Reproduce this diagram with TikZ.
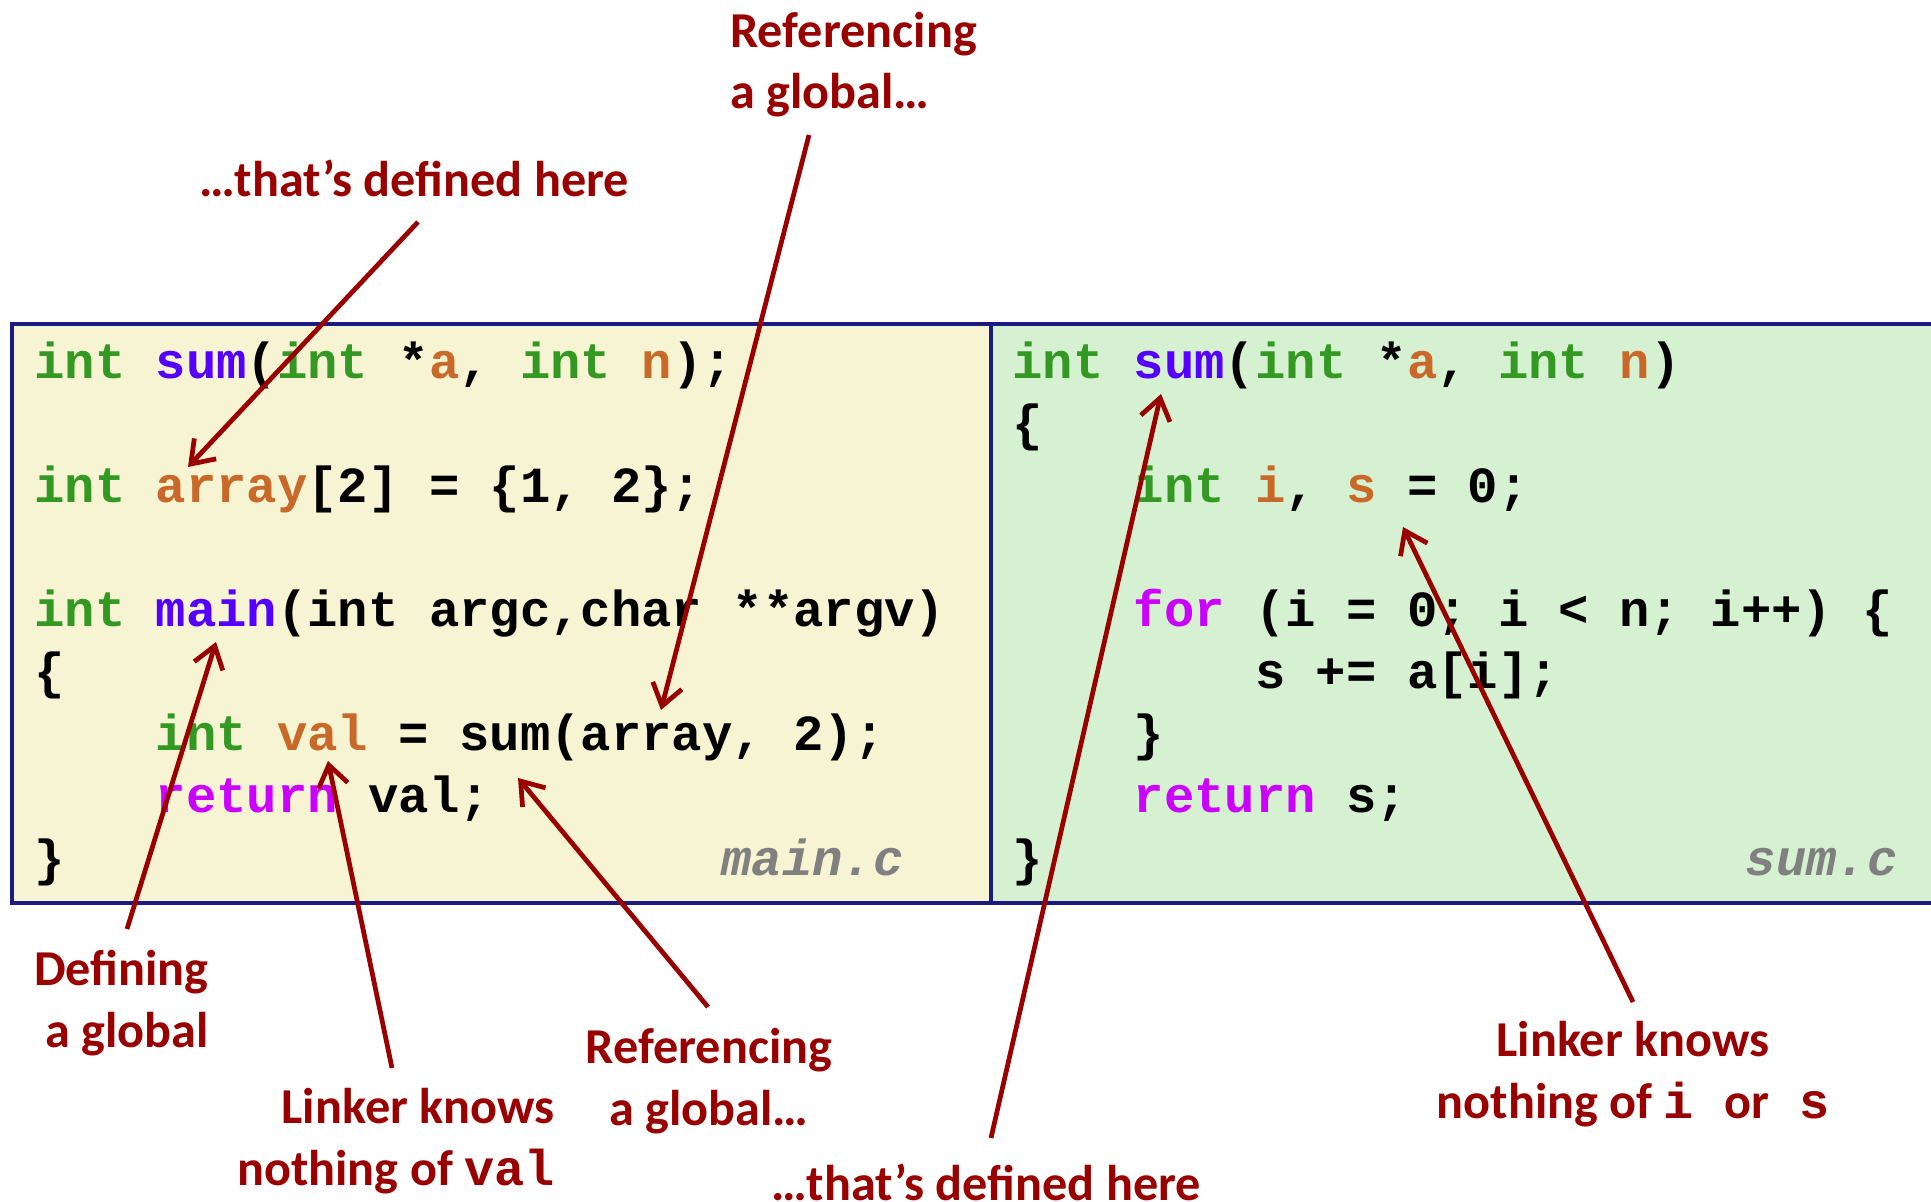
\documentclass[tikz,border=0pt]{standalone}
\usepackage{fontspec}
\setmainfont{Carlito}
\setmonofont{Liberation Mono}
\usetikzlibrary{arrows.meta}
\definecolor{notered}{HTML}{990000}
\definecolor{typegreen}{HTML}{339922}
\definecolor{funblue}{HTML}{5500FF}
\definecolor{varorange}{HTML}{C8692A}
\definecolor{ctlpink}{HTML}{CC00FF}
\definecolor{mainbg}{HTML}{F6F4D2}
\definecolor{sumbg}{HTML}{D6F1D2}
\definecolor{boxblue}{HTML}{1A1A80}
\newcommand{\cint}[1]{\textcolor{typegreen}{#1}}
\newcommand{\cfun}[1]{\textcolor{funblue}{#1}}
\newcommand{\cvar}[1]{\textcolor{varorange}{#1}}
\newcommand{\cctl}[1]{\textcolor{ctlpink}{#1}}
\newcommand{\ind}{\hspace*{2.4em}}

\begin{document}
\begin{tikzpicture}[x=0.02cm,y=-0.02cm,
  codebox/.style={draw=boxblue,line width=2pt},
  codetext/.style={font=\fontsize{28.8}{35.3}\selectfont\ttfamily\bfseries,align=left,anchor=base west,inner sep=0pt},
  fname/.style={font=\fontsize{28.8}{35.3}\selectfont\ttfamily\bfseries\itshape,text=gray,anchor=base east,inner sep=0pt},
  note/.style={font=\fontsize{28.6}{35}\selectfont\bfseries,text=notered,inner sep=0pt},
  pointer/.style={draw=notered,line width=2.7pt,-{Straight Barb[length=12pt,width=17pt]}}]
\clip (0,0) rectangle (1931,1202);

% the two source files
\draw[codebox,fill=mainbg] (12,324) rectangle (991,903);
\draw[codebox,fill=sumbg] (991,324) rectangle (1940,903);

% (a node's base is its last line)
\node[codetext] (maincode) at (34,875) {%
\cint{int} \cfun{sum}(\cint{int} *\cvar{a}, \cint{int} \cvar{n});\\
\mbox{}\\
\cint{int} \cvar{array}[2] = \{1, 2\};\\
\mbox{}\\
\cint{int} \cfun{main}(int argc,char **argv)\\
\{\\
\ind\cint{int} \cvar{val} = sum(array, 2);\\
\ind\cctl{return} val;\\
\}};
\node[fname] (mainname) at (904,875) {main.c};

\node[codetext] (sumcode) at (1012,875) {%
\cint{int} \cfun{sum}(\cint{int} *\cvar{a}, \cint{int} \cvar{n})\\
\{\\
\ind\cint{int} \cvar{i}, \cvar{s} = 0;\\
\mbox{}\\
\ind\cctl{for} (i = 0; i < n; i++) \{\\
\ind\ind s += a[i];\\
\ind\}\\
\ind\cctl{return} s;\\
\}};
\node[fname] (sumname) at (1898,875) {sum.c};

% labels
\node[note,anchor=base] (deftop) at (414,197) {…that’s defined here};
\node[note,anchor=base west,align=left] (reftop) at (730,109) {Referencing\\a global…};
\node[note,anchor=base east,align=right] (defglob) at (209,1047) {Defining\\a global};
\node[note,anchor=base east,align=right] (valnote) at (555,1185) {Linker knows\\nothing of \texttt{val}};
\node[note,anchor=base,align=center] (refbot) at (709,1125) {Referencing\\a global…};
\node[note,anchor=base] (defbot) at (986,1200) {…that’s defined here};
\node[note,anchor=base,align=center] (isnote) at (1633,1118) {Linker knows\\nothing of \texttt{i }or\texttt{ s}};

% ends of the pointers
\coordinate (arraydef) at (188,467);
\coordinate (sumcall) at (661,710);
\coordinate (maindef) at (216,642);
\coordinate (valdef) at (328,761);
\coordinate (sumref) at (518,778);
\coordinate (sumdef) at (1161,394);
\coordinate (isdef) at (1403,527);
\coordinate (deftoptail) at (418,222);
\coordinate (reftoptail) at (809,135);
\coordinate (defglobtail) at (127,929);
\coordinate (valtail) at (392,1068);
\coordinate (refbottail) at (708,1007);
\coordinate (defbottail) at (991,1138);
\coordinate (istail) at (1633,1002);

\draw[pointer] (deftoptail) -- (arraydef);
\draw[pointer] (reftoptail) -- (sumcall);
\draw[pointer] (defglobtail) -- (maindef);
\draw[pointer] (valtail) -- (valdef);
\draw[pointer] (refbottail) -- (sumref);
\draw[pointer] (defbottail) -- (sumdef);
\draw[pointer] (istail) -- (isdef);
\end{tikzpicture}
\end{document}
